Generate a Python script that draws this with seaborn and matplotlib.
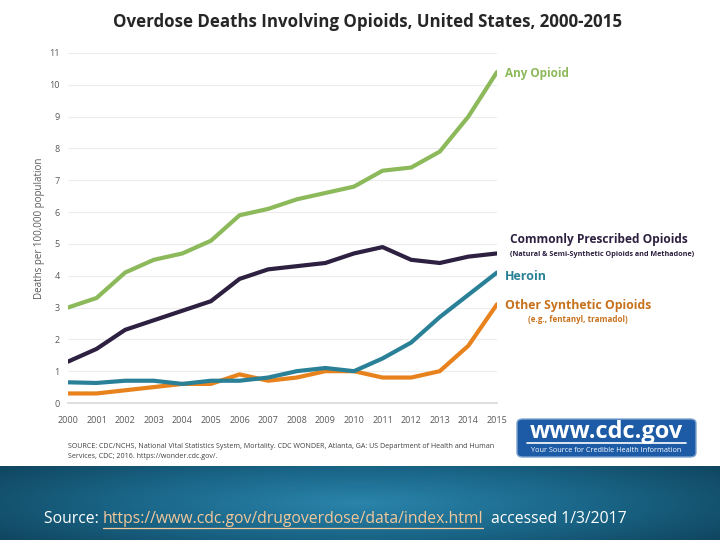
import numpy as np
import pandas as pd
import matplotlib

matplotlib.use('Agg')
import matplotlib.pyplot as plt
import seaborn as sns
from matplotlib.patches import FancyBboxPatch

years = list(range(2000, 2016))
any_opioid = [3.0, 3.3, 4.1, 4.5, 4.7, 5.1, 5.9, 6.1, 6.4, 6.6, 6.8, 7.3, 7.4, 7.9, 9.0, 10.4]
prescribed = [1.3, 1.7, 2.3, 2.6, 2.9, 3.2, 3.9, 4.2, 4.3, 4.4, 4.7, 4.9, 4.5, 4.4, 4.6, 4.7]
heroin = [0.65, 0.63, 0.7, 0.7, 0.6, 0.7, 0.7, 0.8, 1.0, 1.1, 1.0, 1.4, 1.9, 2.7, 3.4, 4.1]
synthetic = [0.3, 0.3, 0.4, 0.5, 0.6, 0.6, 0.9, 0.7, 0.8, 1.0, 1.0, 0.8, 0.8, 1.0, 1.8, 3.1]

series_names = ['Any Opioid', 'Commonly Prescribed Opioids', 'Heroin', 'Other Synthetic Opioids']
palette = {'Any Opioid': '#8cb95a', 'Commonly Prescribed Opioids': '#2d2040',
           'Heroin': '#2a8197', 'Other Synthetic Opioids': '#e8821c'}

df = pd.DataFrame({'year': years * 4,
                   'rate': any_opioid + prescribed + heroin + synthetic,
                   'series': sum([[n] * len(years) for n in series_names], [])})

sns.set_theme(style='white')
plt.rcParams['font.family'] = ['Open Sans', 'DejaVu Sans']

fig = plt.figure(figsize=(7.2, 5.4), dpi=100)
fig.patch.set_facecolor('white')

ax = fig.add_axes([0.0944, 0.2537, 0.5958, 0.6482])
sns.lineplot(data=df, x='year', y='rate', hue='series', palette=palette,
             hue_order=series_names[::-1], linewidth=3, legend=False, ax=ax)
ax.set_xlim(2000, 2015)
ax.set_ylim(0, 11)
ax.set_xticks(years)
ax.set_yticks(range(0, 12))
ax.tick_params(axis='both', labelsize=6.5, colors='#595959', length=0, pad=6)
ax.tick_params(axis='x', length=3, color='#d9d9d9')
ax.yaxis.grid(True, color='#ececec', linewidth=0.8)
for s in ['top', 'right', 'left']:
    ax.spines[s].set_visible(False)
ax.spines['bottom'].set_color('#d9d9d9')
ax.set_xlabel('')
ax.set_ylabel('Deaths per 100,000 population', fontsize=7, color='#595959', labelpad=3)

# title
fig.text(0.51, 0.959, 'Overdose Deaths Involving Opioids, United States, 2000-2015',
         ha='center', va='center', fontsize=12.2, fontweight='bold', color='#262626')

# line labels
fig.text(505 / 720, 1 - 73 / 540, 'Any Opioid', color='#8cb95a', fontsize=8.5,
         fontweight='bold', va='center')
fig.text(510 / 720, 1 - 239 / 540, 'Commonly Prescribed Opioids', color='#2d2040',
         fontsize=8.6, fontweight='bold', va='center')
fig.text(510 / 720, 1 - 254 / 540, '(Natural & Semi-Synthetic Opioids and Methadone)',
         color='#2d2040', fontsize=5.2, fontweight='bold', va='center')
fig.text(505 / 720, 1 - 276 / 540, 'Heroin', color='#2a8197', fontsize=9,
         fontweight='bold', va='center')
fig.text(505 / 720, 1 - 305 / 540, 'Other Synthetic Opioids', color='#c8711c',
         fontsize=8.8, fontweight='bold', va='center')
fig.text(578 / 720, 1 - 320 / 540, '(e.g., fentanyl, tramadol)', color='#c8711c',
         fontsize=5.8, fontweight='bold', va='center', ha='center')

# source note
fig.text(68 / 720, 1 - 447 / 540,
         'SOURCE: CDC/NCHS, National Vital Statistics System, Mortality. CDC WONDER, Atlanta, GA: US Department of Health and Human',
         fontsize=5.1, color='#404040', va='center')
fig.text(68 / 720, 1 - 457 / 540, 'Services, CDC; 2016. https://wonder.cdc.gov/.',
         fontsize=5.1, color='#404040', va='center')

# cdc logo
box = FancyBboxPatch((517 / 720, 1 - 457 / 540), 179 / 720, 38 / 540,
                     boxstyle='round,pad=0,rounding_size=0.008', transform=fig.transFigure,
                     facecolor='#1d5ba6', edgecolor='#7fa3cf', linewidth=1)
fig.patches.append(box)
fig.text(606 / 720, 1 - 432 / 540, 'www.cdc.gov', color='white', fontsize=17,
         fontweight='bold', ha='center', va='center')
fig.add_artist(plt.Line2D([527 / 720, 686 / 720], [1 - 443 / 540, 1 - 443 / 540],
                          color='white', linewidth=1.2, transform=fig.transFigure))
fig.text(606 / 720, 1 - 451 / 540, 'Your Source for Credible Health Information',
         color='white', fontsize=5.2, ha='center', va='center')

# bottom band
band = fig.add_axes([0, 0, 1, 74 / 540])
gx = np.linspace(-1, 1, 300)
gy = np.linspace(-1, 1, 60)
X, Y = np.meshgrid(gx, gy)
R = np.sqrt((X * 0.7) ** 2 + (Y * 0.5) ** 2)
cmap = matplotlib.colors.LinearSegmentedColormap.from_list('band', ['#2a84ab', '#1a6688', '#0f435c'])
band.imshow(R, cmap=cmap, aspect='auto', extent=[0, 1, 0, 1], vmin=0, vmax=0.9)
band.set_axis_off()

ty = 1 - 519 / 540
t1 = fig.text(44 / 720, ty, 'Source: ', color='white', fontsize=11.3, va='center')
fig.canvas.draw()
r = fig.canvas.get_renderer()
bb = t1.get_window_extent(r)
x2 = bb.x1 / fig.bbox.width
t2 = fig.text(x2, ty, 'https://www.cdc.gov/drugoverdose/data/index.html', color='#f2c79a',
              fontsize=11.3, va='center')
bb2 = t2.get_window_extent(r)
x3 = bb2.x1 / fig.bbox.width
fig.add_artist(plt.Line2D([x2, x3], [ty - 0.016, ty - 0.016], color='#f2c79a',
                          linewidth=0.9, transform=fig.transFigure))
fig.text(x3 + 0.01, ty, 'accessed 1/3/2017', color='white', fontsize=11.3, va='center')

fig.savefig('out.png', dpi=100)
